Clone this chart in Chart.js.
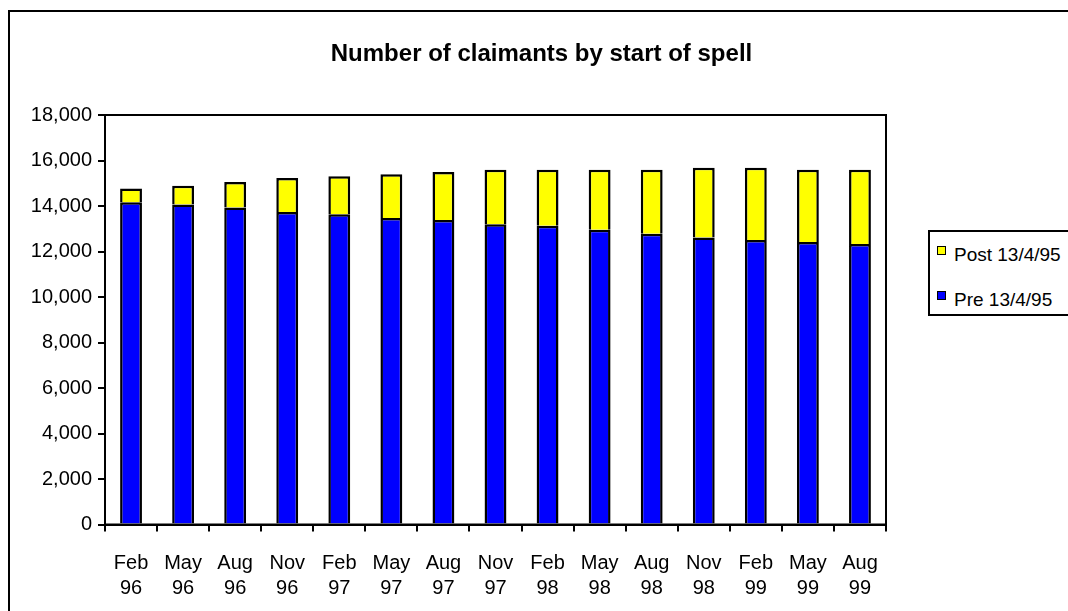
<!DOCTYPE html>
<html>
<head>
<meta charset="utf-8">
<title>Number of claimants by start of spell</title>
<script src="https://cdn.jsdelivr.net/npm/chart.js@4"></script>
<style>
  html, body { margin: 0; padding: 0; background: #fff; overflow: hidden; }
  body { width: 1068px; height: 611px; position: relative; }
  #frame {
    position: absolute; left: 8px; top: 10px;
    width: 2000px; height: 2000px;
    border: 2px solid #000;
  }
  #wrap { position: absolute; left: 0; top: 0; width: 1083px; height: 611px; }
  #legend {
    position: absolute; left: 928px; top: 230px;
    width: 200px; height: 82px;
    border: 2px solid #000; background: #fff;
    font: 19px "Liberation Sans", Arial, sans-serif; color: #000;
  }
  #legend .item { position: absolute; left: 7px; height: 22px; line-height: 22px; white-space: nowrap; }
  #legend .swatch {
    display: inline-block; width: 7px; height: 7px;
    border: 1.5px solid #000; vertical-align: 6px; margin-right: 8px;
  }
</style>
</head>
<body>
<div id="frame"></div>
<div id="wrap"><canvas id="chartBars"></canvas></div>
<div id="legend"></div>

<script>
// Dados
const TITLE = 'Number of claimants by start of spell';
const months = [
  ['Feb', '96'], ['May', '96'], ['Aug', '96'], ['Nov', '96'],
  ['Feb', '97'], ['May', '97'], ['Aug', '97'], ['Nov', '97'],
  ['Feb', '98'], ['May', '98'], ['Aug', '98'], ['Nov', '98'],
  ['Feb', '99'], ['May', '99'], ['Aug', '99']
];
const preLabel = 'Pre 13/4/95';
const postLabel = 'Post 13/4/95';
const preValues = [14160, 14070, 13930, 13740, 13640, 13470, 13380, 13200, 13130, 12960, 12780, 12610, 12510, 12420, 12330];
const postValues = [610, 820, 1130, 1495, 1670, 1930, 2120, 2390, 2460, 2630, 2810, 3070, 3170, 3170, 3260];
const yTicks = [0, 2000, 4000, 6000, 8000, 10000, 12000, 14000, 16000, 18000];

const FONT = '"Liberation Sans", Arial, sans-serif';
const COLORS = { pre: '#0000FF', post: '#FFFF00', line: '#000000' };

// Caixa em volta da área do gráfico
const plotBox = {
  id: 'plotBox',
  afterDraw(chart) {
    const { ctx, chartArea: a } = chart;
    ctx.save();
    ctx.strokeStyle = COLORS.line;
    ctx.lineWidth = 2;
    ctx.strokeRect(a.left, a.top, a.right - a.left, a.bottom - a.top);
    ctx.restore();
  }
};

const data = {
  labels: months,
  datasets: [
    {
      label: preLabel,
      data: preValues,
      backgroundColor: COLORS.pre,
      borderColor: COLORS.line,
      borderWidth: 2.5,
      borderSkipped: 'start',
      barPercentage: 0.42,
      categoryPercentage: 1
    },
    {
      label: postLabel,
      data: postValues,
      backgroundColor: COLORS.post,
      borderColor: COLORS.line,
      borderWidth: 2.5,
      borderSkipped: 'start',
      barPercentage: 0.42,
      categoryPercentage: 1
    }
  ]
};

const options = {
  responsive: true,
  maintainAspectRatio: false,
  animation: false,
  layout: { padding: 0 },
  plugins: {
    legend: { display: false },
    tooltip: { enabled: false },
    title: {
      display: true,
      text: TITLE,
      color: '#000',
      font: { family: FONT, size: 24, weight: 'bold', lineHeight: 1.2 },
      padding: { top: 40, bottom: 46.2 }
    }
  },
  scales: {
    x: {
      stacked: true,
      offset: true,
      grid: { offset: true, drawOnChartArea: false, tickLength: 7, color: COLORS.line, lineWidth: 2 },
      border: { color: COLORS.line, width: 2 },
      ticks: {
        color: '#000', maxRotation: 0, autoSkip: false, padding: 19,
        font: { family: FONT, size: 20, lineHeight: 1.25 }
      },
      afterFit: s => { s.height = 86.5; }
    },
    y: {
      stacked: true,
      min: 0,
      max: 18000,
      afterBuildTicks: s => { s.ticks = yTicks.map(v => ({ value: v })); },
      grid: { drawOnChartArea: false, tickLength: 7, color: COLORS.line, lineWidth: 2 },
      border: { color: COLORS.line, width: 2 },
      ticks: {
        color: '#000', padding: 6,
        font: { family: FONT, size: 20 },
        callback: v => v.toLocaleString('en-US')
      },
      afterFit: s => { s.width = 105; }
    },
    // espaço reservado à direita (legenda fica fora do canvas)
    spacer: {
      type: 'linear',
      position: 'right',
      display: true,
      grid: { display: false },
      border: { display: false },
      ticks: { display: false },
      afterFit: s => { s.width = 1083 - 886; }
    }
  }
};

new Chart(document.getElementById('chartBars'), {
  type: 'bar',
  data,
  options,
  plugins: [plotBox]
});

// Legenda em HTML (ordem invertida, como no original)
const legend = document.getElementById('legend');
[data.datasets[1], data.datasets[0]].forEach((ds, i) => {
  const item = document.createElement('div');
  item.className = 'item';
  item.style.top = (12 + i * 45) + 'px';
  const sw = document.createElement('span');
  sw.className = 'swatch';
  sw.style.background = ds.backgroundColor;
  item.appendChild(sw);
  item.appendChild(document.createTextNode(ds.label));
  legend.appendChild(item);
});
</script>
</body>
</html>
